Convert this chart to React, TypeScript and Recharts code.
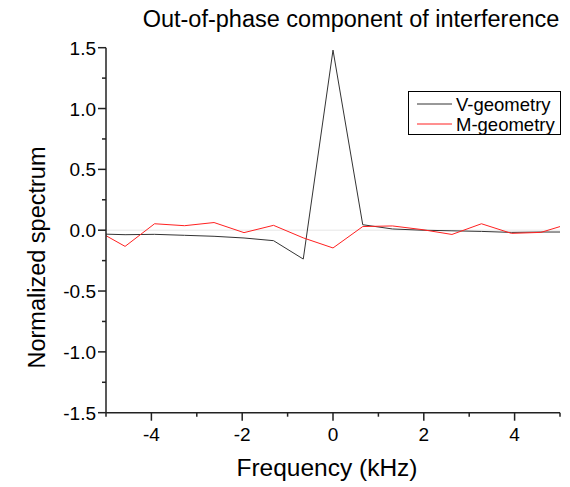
import React from "react";
import {
  LineChart,
  Line,
  XAxis,
  YAxis,
  CartesianGrid,
  Legend,
} from "recharts";

// frequency points (kHz), spacing ~0.655 kHz, the outer two sit just past the axis range
const FREQ = [
  -5.24, -4.58, -3.93, -3.27, -2.62, -1.96, -1.31, -0.655, 0, 0.655, 1.31,
  1.96, 2.62, 3.27, 3.93, 4.58, 5.24,
];
const V_GEOMETRY = [
  -0.03, -0.037, -0.034, -0.042, -0.05, -0.064, -0.086, -0.237, 1.48, 0.045,
  0.01, 0.0, -0.005, -0.01, -0.018, -0.015, -0.015,
];
const M_GEOMETRY = [
  0.005, -0.133, 0.053, 0.037, 0.063, -0.02, 0.04, -0.063, -0.146, 0.03, 0.035,
  0.005, -0.035, 0.053, -0.026, -0.018, 0.057,
];

const X_TICKS = [-5, -4, -3, -2, -1, 0, 1, 2, 3, 4, 5];
const X_LABELED = [-4, -2, 0, 2, 4];
const Y_TICKS = [
  -1.5, -1.25, -1, -0.75, -0.5, -0.25, 0, 0.25, 0.5, 0.75, 1, 1.25, 1.5,
];
const Y_LABELED = [-1.5, -1, -0.5, 0, 0.5, 1, 1.5];

const TITLE = "Out-of-phase component of interference";
const X_LABEL = "Frequency (kHz)";
const Y_LABEL = "Normalized spectrum";

const FONT = "Arial, 'Liberation Sans', sans-serif";
const AXIS = "#222";
const BLACK = "#333333";
const RED = "#ff2020";

const data = FREQ.map((f, i) => ({
  f,
  "V-geometry": V_GEOMETRY[i],
  "M-geometry": M_GEOMETRY[i],
}));

function XTick(props: any) {
  const { x, y, payload } = props;
  const major = X_LABELED.includes(payload.value);
  return (
    <g>
      <line x1={x} x2={x} y1={y} y2={y + (major ? 8 : 4)} stroke={AXIS} strokeWidth={1.5} />
      {major && (
        <text x={x} y={y + 28} textAnchor="middle" fontSize={19} fontFamily={FONT} fill="#000">
          {payload.value}
        </text>
      )}
    </g>
  );
}

function YTick(props: any) {
  const { x, y, payload } = props;
  const major = Y_LABELED.includes(payload.value);
  return (
    <g>
      <line x1={x} x2={x - (major ? 8 : 4)} y1={y} y2={y} stroke={AXIS} strokeWidth={1.5} />
      {major && (
        <text x={x - 10} y={y + 7} textAnchor="end" fontSize={19} fontFamily={FONT} fill="#000">
          {payload.value.toFixed(1)}
        </text>
      )}
    </g>
  );
}

function LegendBox() {
  return (
    <div
      style={{
        width: 153,
        height: 44,
        border: "1px solid #000",
        boxSizing: "border-box",
        background: "#fff",
      }}
    >
      <svg width={151} height={42} style={{ display: "block" }}>
        <line x1={8} x2={43} y1={12} y2={12} stroke={BLACK} strokeWidth={1} />
        <text x={47} y={19} fontSize={18.5} fontFamily={FONT} fill="#000">
          V-geometry
        </text>
        <line x1={8} x2={43} y1={32} y2={32} stroke={RED} strokeWidth={1} />
        <text x={47} y={39} fontSize={18.5} fontFamily={FONT} fill="#000">
          M-geometry
        </text>
      </svg>
    </div>
  );
}

export default function App() {
  return (
    <div style={{ position: "absolute", left: 0, top: 0, width: 570, height: 487, background: "#fff" }}>
      <LineChart
        width={570}
        height={487}
        data={data}
        margin={{ top: 47.7, right: 10, left: 0, bottom: 0 }}
      >
        <CartesianGrid vertical={false} horizontalValues={[0]} stroke="#e6e6e6" />
        <XAxis
          dataKey="f"
          type="number"
          domain={[-5, 5]}
          allowDataOverflow
          ticks={X_TICKS}
          interval={0}
          tickSize={0}
          tickMargin={0}
          tickLine={false}
          height={74.3}
          axisLine={{ stroke: AXIS, strokeWidth: 1.5 }}
          tick={XTick}
        />
        <YAxis
          type="number"
          domain={[-1.5, 1.5]}
          allowDataOverflow
          ticks={Y_TICKS}
          interval={0}
          tickSize={0}
          tickMargin={0}
          tickLine={false}
          width={106}
          axisLine={{ stroke: AXIS, strokeWidth: 1.5 }}
          tick={YTick}
        />
        <Legend
          layout="horizontal"
          verticalAlign="middle"
          align="center"
          content={() => <LegendBox />}
          wrapperStyle={{ left: 408, top: 91, width: 153, height: 44 }}
        />
        <Line
          type="linear"
          dataKey="V-geometry"
          stroke={BLACK}
          strokeWidth={1}
          dot={false}
          isAnimationActive={false}
        />
        <Line
          type="linear"
          dataKey="M-geometry"
          stroke={RED}
          strokeWidth={1}
          dot={false}
          isAnimationActive={false}
        />
      </LineChart>
      <svg
        width={570}
        height={487}
        style={{ position: "absolute", left: 0, top: 0, pointerEvents: "none" }}
      >
        <text x={351} y={27} textAnchor="middle" fontSize={23.5} fontFamily={FONT} fill="#000">
          {TITLE}
        </text>
        <text x={327} y={476} textAnchor="middle" fontSize={24.5} fontFamily={FONT} fill="#000">
          {X_LABEL}
        </text>
        <text
          x={0}
          y={0}
          transform="translate(45,257.5) rotate(-90)"
          textAnchor="middle"
          fontSize={23.5}
          fontFamily={FONT}
          fill="#000"
        >
          {Y_LABEL}
        </text>
      </svg>
    </div>
  );
}
